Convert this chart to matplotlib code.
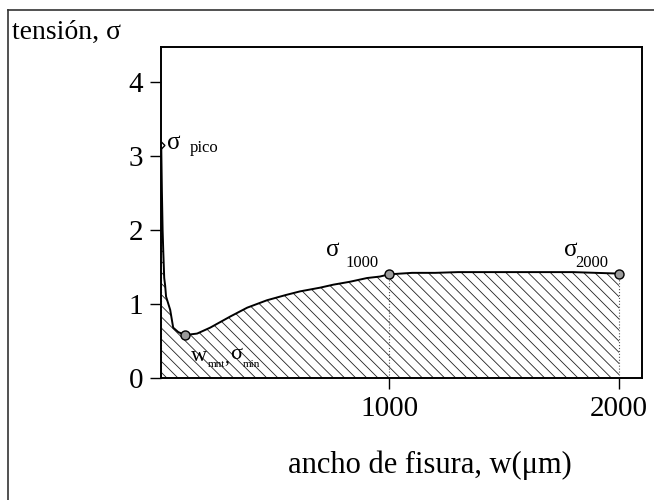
import matplotlib
matplotlib.use("Agg")
import matplotlib.pyplot as plt
from matplotlib.lines import Line2D

plt.rcParams['font.family'] = ['Liberation Serif', 'DejaVu Serif']
plt.rcParams['hatch.linewidth'] = 0.6

# crack width (µm) and stress along the softening curve
w_um = [9, 12, 15, 18, 22, 26, 30, 39, 48, 61, 83, 113, 165, 222, 309, 383,
        469, 550, 613, 700, 757, 830, 904, 960, 1000, 1100, 1200, 1300, 1400,
        1500, 1600, 1700, 1800, 1900, 2000]
sigma = [3.15, 2.5, 2.0, 1.7, 1.35, 1.25, 1.1, 1.01, 0.92, 0.68, 0.62, 0.58,
         0.60, 0.68, 0.83, 0.95, 1.05, 1.12, 1.17, 1.22, 1.26, 1.30, 1.35,
         1.37, 1.40, 1.42, 1.42, 1.43, 1.43, 1.43, 1.43, 1.43, 1.43, 1.42, 1.41]

# characteristic points
w_pico, s_pico = 9, 3.15
w_min, s_min = 113, 0.58
w_1000, s_1000 = 1000, 1.40
w_2000, s_2000 = 2000, 1.41

x_ticks = [1000, 2000]
y_ticks = [0, 1, 2, 3, 4]

fig = plt.figure(figsize=(6.54, 5.0), dpi=100)
ax = fig.add_axes([161/654, 1 - 378/500, (642 - 161)/654, (378 - 47)/500])

# hatched area under the curve
ax.fill_between(w_um, 0, sigma, facecolor='none', edgecolor='#222222',
                hatch='\\\\\\', linewidth=0)
ax.vlines([w_um[0]], 0, 2.0, colors='#555555', linestyles=':', linewidth=0.8)
ax.vlines([1000, 2000], 0, [s_1000, s_2000], colors='#555555',
          linestyles=':', linewidth=0.8)

ax.plot(w_um, sigma, color='black', linewidth=1.4)

ax.plot([w_pico], [s_pico], marker='D', markersize=3.5, mfc='white',
        mec='black', mew=1.0, linestyle='none')
ax.plot([w_min, w_1000, w_2000], [s_min, s_1000, s_2000], marker='o',
        markersize=6.5, mfc='#9a9a9a', mec='black', mew=1.0, linestyle='none')


def label(xy, text, dx_px, dy_px, size, ha='left'):
    # text placed relative to a data point, offsets given in pixels
    ax.annotate(text, xy=xy, xytext=(dx_px * 0.72, dy_px * 0.72),
                textcoords='offset points', fontsize=size, ha=ha,
                va='center')


label((w_pico, s_pico), 'σ', 6, 2, 18)
label((w_pico, s_pico), 'pico', 28, -3, 12)
label((w_1000, s_1000), 'σ', -56, 24, 18, ha='center')
label((w_1000, s_1000), '1000', -27, 11, 12, ha='center')
label((w_2000, s_2000), 'σ', -48, 24, 18, ha='center')
label((w_2000, s_2000), '2000', -27, 11, 12, ha='center')
label((w_min, s_min), 'w', 6, -21, 16)
label((w_min, s_min), 'mnt', 23, -29, 8)
label((w_min, s_min), ',', 39, -23, 14)
label((w_min, s_min), 'σ', 45, -19, 16)
label((w_min, s_min), 'min', 58, -29, 8)

ax.set_xlim(8, 2100)
ax.set_ylim(0, 4.47)
ax.set_xticks(x_ticks)
ax.set_yticks(y_ticks)
ax.tick_params(direction='out', length=8, width=1.0, labelsize=21, pad=5)
for s in ax.spines.values():
    s.set_linewidth(1.4)

fig.text(12/654, 1 - 32/500, 'tensión, σ', fontsize=20, ha='left',
         va='center')
fig.text(430/654, 1 - 465/500, 'ancho de fisura, w(μm)', fontsize=22,
         ha='center', va='center')

# outer frame (left and top edges)
fig.add_artist(Line2D([8/654, 8/654], [0, 1 - 10/500], color='#333333',
                      linewidth=1.2, transform=fig.transFigure))
fig.add_artist(Line2D([8/654, 1], [1 - 10/500, 1 - 10/500], color='#333333',
                      linewidth=1.2, transform=fig.transFigure))

fig.savefig('out.png', dpi=100)
